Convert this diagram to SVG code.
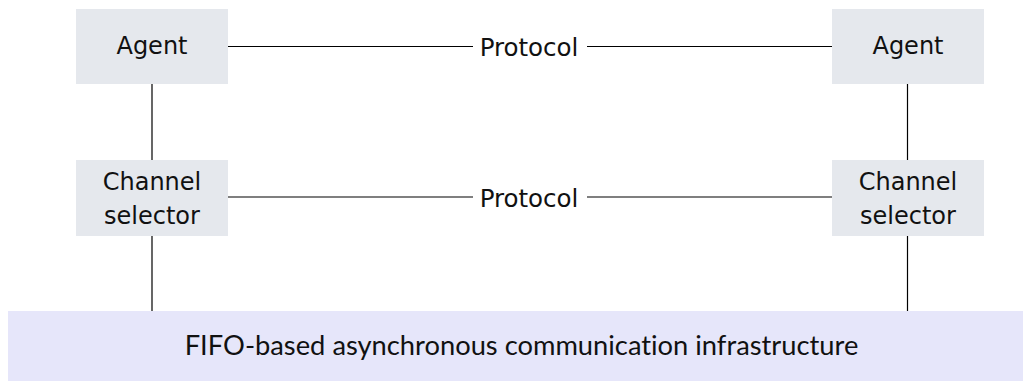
<svg xmlns="http://www.w3.org/2000/svg" width="1023" height="381" viewBox="0 0 1023 381">
<style>
.node{fill:#e5e8ed}
.infra{fill:#e6e6fa}
.lbl{font-family:"DejaVu Sans",sans-serif;font-size:24px;fill:#111;text-anchor:middle}
.big{font-family:Lato,"DejaVu Sans",sans-serif;font-size:27.3px;fill:#111;text-anchor:middle;font-variant-ligatures:none}
.conn line{stroke:#000;stroke-width:1.2}
</style>
<rect x="0" y="0" width="1023" height="381" fill="#fff"/>
<g id="infra">
<rect class="infra" x="8" y="311" width="1015" height="70"/>
<text class="big" x="521.5" y="355">FIFO-based asynchronous communication infrastructure</text>
</g>
<g id="agent-left">
<rect class="node" x="76" y="9" width="152" height="75"/>
<text class="lbl" x="152" y="54">Agent</text>
</g>
<g id="agent-right">
<rect class="node" x="832" y="9" width="152" height="75"/>
<text class="lbl" x="908" y="54">Agent</text>
</g>
<g id="selector-left">
<rect class="node" x="76" y="160" width="152" height="76"/>
<text class="lbl" x="152" y="190">Channel</text>
<text class="lbl" x="152" y="224">selector</text>
</g>
<g id="selector-right">
<rect class="node" x="832" y="160" width="152" height="76"/>
<text class="lbl" x="908" y="190">Channel</text>
<text class="lbl" x="908" y="224">selector</text>
</g>
<g id="protocol-labels">
<text class="lbl" x="529" y="56" style="font-size:24.5px">Protocol</text>
<text class="lbl" x="529" y="207" style="font-size:24.5px">Protocol</text>
</g>
<g class="conn" id="connectors">
<line x1="228" y1="46.5" x2="473" y2="46.5"/>
<line x1="587" y1="46.5" x2="832" y2="46.5"/>
<line x1="228" y1="197" x2="473" y2="197"/>
<line x1="587" y1="197" x2="832" y2="197"/>
<line x1="152" y1="84" x2="152" y2="160"/>
<line x1="907.5" y1="84" x2="907.5" y2="160"/>
<line x1="152" y1="236" x2="152" y2="311"/>
<line x1="907.5" y1="236" x2="907.5" y2="311"/>
</g>
</svg>
